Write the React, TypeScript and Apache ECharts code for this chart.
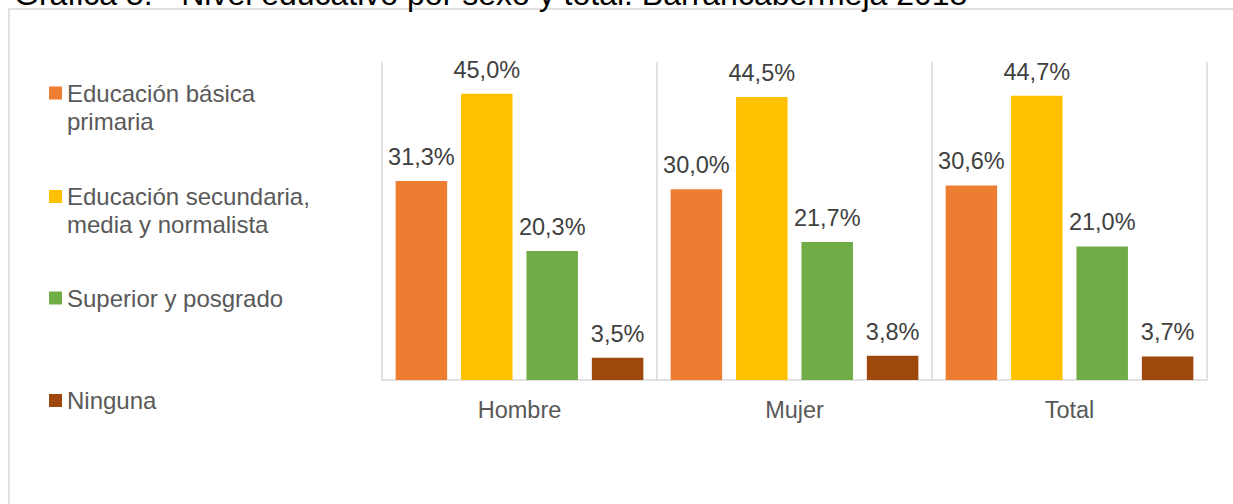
import React, { useEffect, useRef } from "react";
import * as echarts from "echarts";

const titleText = "Gráfica 5. - Nivel educativo por sexo y total. Barrancabermeja 2018";
const categories = ["Hombre", "Mujer", "Total"];
const seriesNames = [
  "Educación básica primaria",
  "Educación secundaria, media y normalista",
  "Superior y posgrado",
  "Ninguna",
];
const legendLines = [
  "Educación básica\nprimaria",
  "Educación secundaria,\nmedia y normalista",
  "Superior y posgrado",
  "Ninguna",
];
const basicaPrimaria = [31.3, 30.0, 30.6];
const secundariaMedia = [45.0, 44.5, 44.7];
const superiorPosgrado = [20.3, 21.7, 21.0];
const ninguna = [3.5, 3.8, 3.7];
const seriesValues = [basicaPrimaria, secundariaMedia, superiorPosgrado, ninguna];
const colors = ["#ED7D31", "#FFC000", "#70AD47", "#9E480E"];

const FONT = "'Liberation Sans', Arial, sans-serif";

export default function App() {
  const ref = useRef<HTMLDivElement>(null);
  useEffect(() => {
    if (!ref.current) return;
    const chart = echarts.init(ref.current, undefined, { renderer: "svg" });
    const legendCenters = [93, 196.5, 298, 400.5];
    const LH = 28;
    const legends = seriesNames.map((name, i) => {
      const twoLines = legendLines[i].includes("\n");
      const boxH = twoLines ? 3 * LH : LH;
      // a leading empty line keeps the icon beside the first text line
      const txt = twoLines ? "\n" + legendLines[i] : legendLines[i];
      return {
        data: [name],
        orient: "vertical",
        left: 49,
        top: legendCenters[i] - boxH / 2,
        padding: 0,
        itemWidth: 13,
        itemHeight: 13,
        itemGap: 0,
        icon: "rect",
        selectedMode: false,
        formatter: () => txt,
        textStyle: {
          fontFamily: FONT,
          fontSize: 24,
          color: "#595959",
          lineHeight: LH,
        },
      };
    });
    chart.setOption({
      animation: false,
      backgroundColor: "#ffffff",
      textStyle: { fontFamily: FONT },
      title: {
        text: titleText,
        left: 14,
        top: -22,
        padding: 0,
        textStyle: {
          fontFamily: FONT,
          fontSize: 32,
          lineHeight: 32,
          fontWeight: "normal",
          color: "#000000",
        },
      },
      graphic: [
        {
          type: "rect",
          shape: { x: 9, y: 9, width: 1300, height: 600 },
          style: { fill: "none", stroke: "#d9d9d9", lineWidth: 1.5 },
          silent: true,
        },
      ],
      legend: legends,
      grid: { left: 382, right: 26, top: 62, bottom: 124 },
      xAxis: {
        type: "category",
        data: categories,
        axisLine: { show: true, lineStyle: { color: "#d9d9d9", width: 1.5 } },
        axisTick: { show: false },
        splitLine: { show: true, interval: 0, lineStyle: { color: "#d9d9d9", width: 1.5 } },
        axisLabel: {
          fontFamily: FONT,
          fontSize: 23.5,
          color: "#595959",
          margin: 18,
        },
      },
      yAxis: {
        type: "value",
        min: 0,
        max: 50,
        show: false,
        splitLine: { show: false },
      },
      series: seriesNames.map((name, i) => ({
        name,
        type: "bar",
        data: seriesValues[i],
        barWidth: 51.5,
        barGap: "27%",
        itemStyle: { color: colors[i] },
        label: {
          show: true,
          position: "top",
          distance: 12,
          fontFamily: FONT,
          fontSize: 23.5,
          color: "#404040",
          formatter: (p: any) => p.value.toFixed(1).replace(".", ",") + "%",
        },
      })),
    });
    return () => chart.dispose();
  }, []);
  return (
    <div
      ref={ref}
      style={{ position: "fixed", left: 0, top: 0, width: 1233, height: 504 }}
    />
  );
}
